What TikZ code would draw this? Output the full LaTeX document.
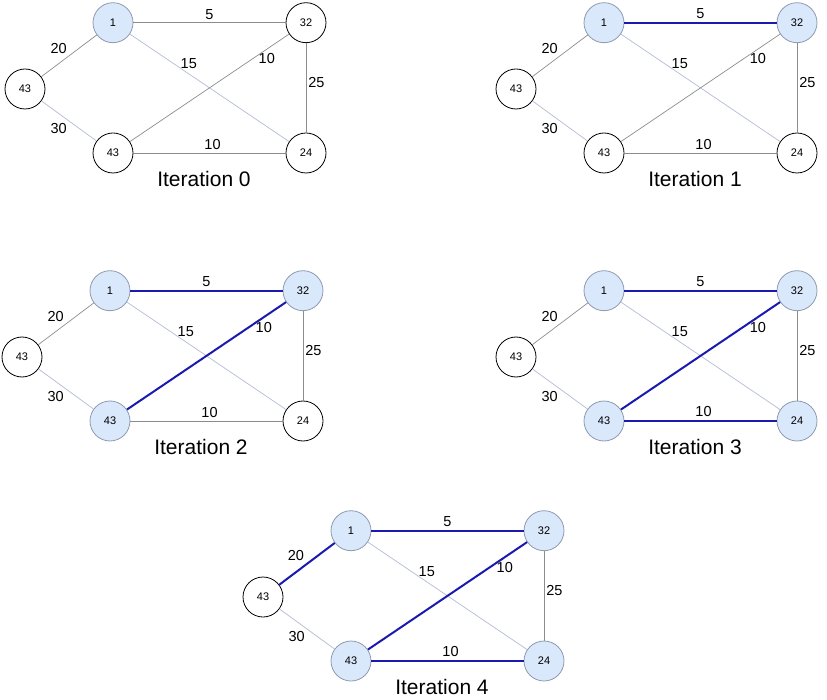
\documentclass[tikz,border=0pt]{standalone}
\usepackage{fontspec}
\setmainfont{Liberation Sans}
\usetikzlibrary{positioning}
\definecolor{nodeblue}{HTML}{DAE8FC}
\definecolor{nodeline}{HTML}{8E9AAF}
\definecolor{linkgray}{HTML}{8C8C8C}
\definecolor{linklight}{HTML}{B3BCD3}
\definecolor{mstblue}{HTML}{1A1AB0}

\begin{document}
\begin{tikzpicture}[x=1pt,y=-1pt,
vert/.style={circle,draw=black,fill=white,line width=0.8pt,minimum size=40pt,inner sep=0pt,font=\fontsize{11}{13}\selectfont},
fresh/.style={},
seen/.style={fill=nodeblue,draw=nodeline},
link/.style={draw=linkgray,line width=0.7pt},
faint/.style={draw=linklight,line width=0.7pt},
mst/.style={draw=mstblue,line width=2pt},
wt/.style={font=\fontsize{14.5}{16}\selectfont,inner sep=2pt},
itlabel/.style={font=\fontsize{21}{24}\selectfont}]
\useasboundingbox(0,0)rectangle(827,700);
\foreach \g/\dx/\dy/\fb/\fd/\fe/\ea/\eb/\ec/\ed in {0/0/0/fresh/fresh/fresh/link/link/link/link,
1/491/0/seen/fresh/fresh/mst/link/link/link,
2/-3/268/seen/seen/fresh/mst/mst/link/link,
3/491/268/seen/seen/seen/mst/mst/mst/link,
4/238/508/seen/seen/seen/mst/mst/mst/mst}{
\begin{scope}[shift={(\dx,\dy)}]
\node[vert,seen](a\g)at(113,22.7){1};
\node[vert,\fb](b\g)at(306,22.7){32};
\node[vert](c\g)at(25,89){43};
\node[vert,\fd](d\g)at(113,153){43};
\node[vert,\fe](e\g)at(306,153){24};
\node[itlabel](t\g)at(204,179){Iteration \g};
\path[faint](a\g)--node[wt,pos=0.37,above=3pt]{15}(e\g);
\path[link](b\g)--node[wt,pos=0.435,right]{25}(e\g);
\path[faint](c\g)--node[wt,midway,below left]{30}(d\g);
\path[\ea](a\g)--node[wt,above=1pt]{5}(b\g);
\path[\eb](b\g)--node[wt,pos=0.14,below=2pt]{10}(d\g);
\path[\ec](d\g)--node[wt,pos=0.52,above=1pt]{10}(e\g);
\path[\ed](a\g)--node[wt,midway,above left]{20}(c\g);
\end{scope}}
\end{tikzpicture}
\end{document}
